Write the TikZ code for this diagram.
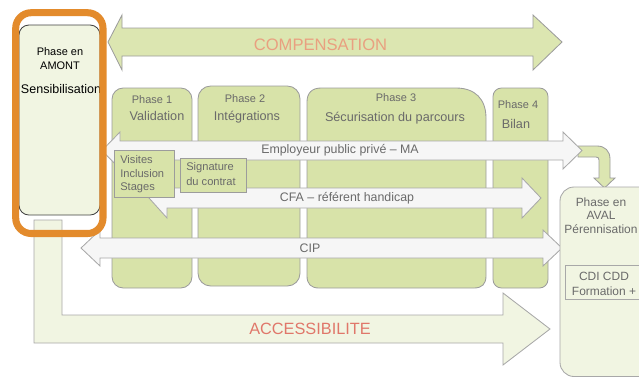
\documentclass[tikz,border=0pt]{standalone}
\usepackage{fontspec}
\setmainfont{Liberation Sans}
\definecolor{phasegreen}{HTML}{D8E3A9}
\definecolor{arrowgreen}{HTML}{DCE6B1}
\definecolor{palegreen}{HTML}{F1F5E2}
\definecolor{paleline}{HTML}{A8A8A8}
\definecolor{boxline}{HTML}{9C9C9C}
\definecolor{whitefill}{HTML}{F6F6F6}
\definecolor{textgray}{HTML}{6A6A6A}
\definecolor{framecolor}{HTML}{E38B2C}
\definecolor{salmon}{HTML}{E9A080}
\definecolor{salmonred}{HTML}{E0776A}
\tikzset{
  phasebox/.style={draw=boxline, fill=phasegreen, line width=0.6pt},
  bigarrow/.style={draw=boxline, fill=arrowgreen, line width=0.6pt},
  palearrow/.style={draw=paleline, fill=palegreen, line width=0.6pt},
  whitearrow/.style={draw=paleline, fill=whitefill, line width=0.6pt},
  smallbox/.style={draw=boxline, fill=phasegreen, line width=0.6pt},
  phasetitle/.style={text=textgray, inner sep=0pt, font=\fontsize{7.8}{9}\selectfont},
  phasename/.style={text=textgray, inner sep=0pt, font=\fontsize{9}{10}\selectfont},
  arrowlabel/.style={text=textgray, inner sep=0pt, font=\fontsize{8.8}{10}\selectfont},
  boxtext/.style={text=textgray, inner sep=0pt, anchor=west, font=\fontsize{7.9}{9}\selectfont},
  avaltext/.style={text=textgray, inner sep=0pt, font=\fontsize{8.5}{10}\selectfont},
  amonttext/.style={text=black, inner sep=0pt, font=\fontsize{7.8}{9}\selectfont},
}
\begin{document}
\begin{tikzpicture}[x=0.025cm, y=-0.025cm]
\useasboundingbox (0,0) rectangle (639,378);
\begin{scope}
\clip (0,0) rectangle (639,378);
% big arrows
\draw[bigarrow] (108,42) -- (122,15) -- (122,28) -- (533,28) -- (533,15) -- (562,42)
  -- (533,70) -- (533,56) -- (122,56) -- (122,70) -- cycle;
\draw[palearrow] (34,220) -- (62,220) -- (62,315) -- (503,315) -- (503,293) -- (550,329)
  -- (503,365) -- (503,343) -- (34,343) -- cycle;
% phases
\draw[phasebox, rounded corners=8pt] (112,88) rectangle (192,288);
\draw[phasebox, rounded corners=9pt] (198,86) rectangle (300,286);
\draw[phasebox] (307,276) -- (307,102) .. controls (307,93) and (312,88) .. (321,88)
  -- (456,88) .. controls (475,88) and (486,99) .. (486,118)
  -- (486,276) .. controls (486,284) and (482,288) .. (474,288)
  -- (319,288) .. controls (311,288) and (307,284) .. (307,276) -- cycle;
\draw[phasebox, rounded corners=6pt] (493,88) rectangle (548,288);
% link to aval
\draw[bigarrow] (578,146) -- (597,146) .. controls (605,146) and (610,151) .. (610,159)
  -- (610,178) -- (615,178) -- (604.5,188) -- (594,178) -- (599,178) -- (599,160)
  .. controls (599,158) and (598,157) .. (596,157) -- (578,157) -- cycle;
% actors
\draw[whitearrow] (102,150.5) -- (120,132) -- (120,141) -- (563,141) -- (563,132) -- (582,150.5)
  -- (563,169) -- (563,160) -- (120,160) -- (120,169) -- cycle;
\draw[whitearrow] (149,198) -- (167,178) -- (167,188) -- (522,188) -- (522,178) -- (541,198)
  -- (522,218) -- (522,208) -- (167,208) -- (167,218) -- cycle;
\draw[whitearrow] (81,248) -- (100,230) -- (100,238) -- (543,238) -- (543,230) -- (562,248)
  -- (543,266) -- (543,258) -- (100,258) -- (100,266) -- cycle;
\draw[smallbox] (114,150) rectangle (174,197);
\draw[smallbox] (180,158) rectangle (246,192);
% aval
\draw[palearrow, rounded corners=10pt] (560,187) rectangle (690,376.5);
\draw[palearrow] (565,265) rectangle (690,299);
% amont
\draw[fill=palegreen, draw=black!75, line width=0.6pt, rounded corners=7pt] (19,25) rectangle (100,215);
\end{scope}
\node[font=\fontsize{11.8}{13}\selectfont, text=salmon, inner sep=0pt](compensation) at (320.5,45) {COMPENSATION};
\node[font=\fontsize{11.6}{13}\selectfont, text=salmonred, inner sep=0pt](accessibilite) at (310,329) {ACCESSIBILITE};
\node[phasetitle](p1) at (152,100) {Phase 1};
\node[phasename](validation) at (157,116) {Validation};
\node[phasetitle](p2) at (245,99) {Phase 2};
\node[phasename](integrations) at (247,117) {Intégrations};
\node[phasetitle](p3) at (396,98) {Phase 3};
\node[phasename](securisation) at (395,118) {Sécurisation du parcours};
\node[phasetitle](p4) at (518,105) {Phase 4};
\node[phasename](bilan) at (516,124) {Bilan};
\node[arrowlabel](employeur) at (340,150.5) {Employeur public privé – MA};
\node[arrowlabel](cfa) at (347,198) {CFA – référent handicap};
\node[arrowlabel](cip) at (310,248) {CIP};
\node[boxtext](visites) at (120,160) {Visites};
\node[boxtext](inclusion) at (120,174) {Inclusion};
\node[boxtext](stages) at (120,188) {Stages};
\node[boxtext](signature) at (186,168) {Signature};
\node[boxtext](contrat) at (186,182) {du contrat};
\node[avaltext](aval1) at (601,202) {Phase en};
\node[avaltext](aval2) at (601,215) {AVAL};
\node[avaltext](aval3) at (601,229) {Pérennisation};
\node[avaltext](cdi) at (604,276) {CDI CDD};
\node[avaltext](formation) at (604,291) {Formation +};
\node[amonttext](amont1) at (60,52) {Phase en};
\node[amonttext](amont2) at (60,66) {AMONT};
\node[amonttext, font=\fontsize{8.9}{10}\selectfont](sensib) at (61,89) {Sensibilisation};
% frame
\draw[framecolor, line width=5pt, rounded corners=11pt] (15.7,12.7) rectangle (103,233.5);
\end{tikzpicture}
\end{document}
